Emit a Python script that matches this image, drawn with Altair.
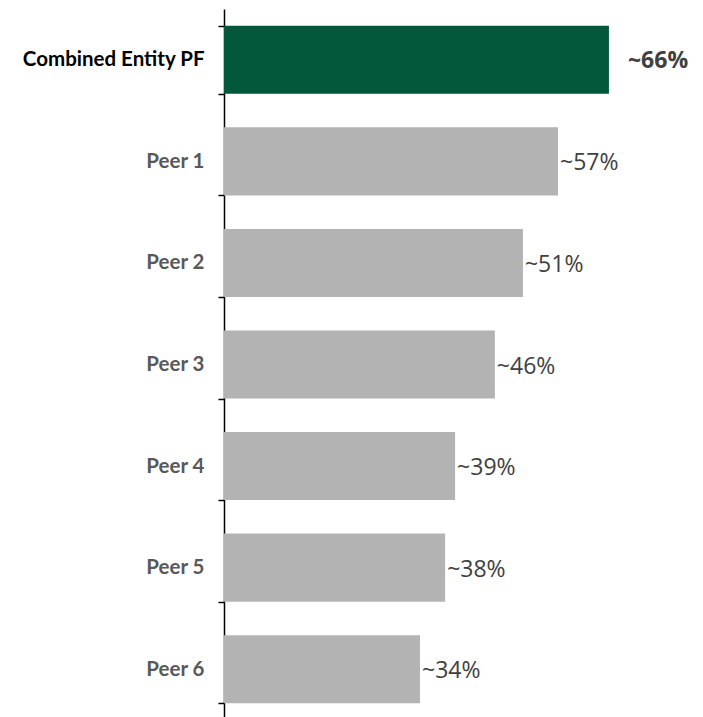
import altair as alt
import pandas as pd

categories = ["Combined Entity PF", "Peer 1", "Peer 2", "Peer 3", "Peer 4", "Peer 5", "Peer 6"]
values = [65.8, 57.1, 51.1, 46.3, 39.5, 37.8, 33.5]
labels = ["~66%", "~57%", "~51%", "~46%", "~39%", "~38%", "~34%"]
highlight = [True, False, False, False, False, False, False]

df = pd.DataFrame({"cat": categories, "val": values, "lab": labels, "hl": highlight})

y = alt.Y("cat:N", sort=categories, title=None,
          scale=alt.Scale(paddingInner=0.33, paddingOuter=0.165),
          axis=alt.Axis(tickBand="extent", domainColor="black", domainWidth=1.5,
                        tickColor="black", tickWidth=1.5, tickSize=6,
                        labelFont="Lato", labelFontSize=20.5, labelFontWeight="bold",
                        labelColor={"expr": "datum.value == 'Combined Entity PF' ? '#000000' : '#595959'"},
                        labelPadding=14, labelLimit=300))
x = alt.X("val:Q", scale=alt.Scale(domain=[0, 80]), axis=None)

bars = alt.Chart(df).mark_bar().encode(
    y=y, x=x,
    color=alt.Color("hl:N", scale=alt.Scale(domain=[True, False], range=["#03573b", "#b3b3b3"]), legend=None),
)

text_main = alt.Chart(df).transform_filter("datum.hl").mark_text(
    align="left", baseline="middle", dx=19, dy=1, font="Open Sans", fontSize=23, fontWeight="bold", color="#404040"
).encode(y=y, x=x, text="lab:N")

text_peer = alt.Chart(df).transform_filter("!datum.hl").mark_text(
    align="left", baseline="middle", dx=2, dy=2, font="Open Sans", fontSize=23, color="#404040"
).encode(y=y, x=x, text="lab:N")

chart = alt.layer(bars, text_main, text_peer).properties(
    width=468, height=711,
    autosize=alt.AutoSizeParams(type="none"),
    padding={"left": 216, "top": 1, "right": 0, "bottom": 0},
).configure_view(stroke=None)

chart.save("out.html", embed_options={"renderer": "svg", "actions": False})
